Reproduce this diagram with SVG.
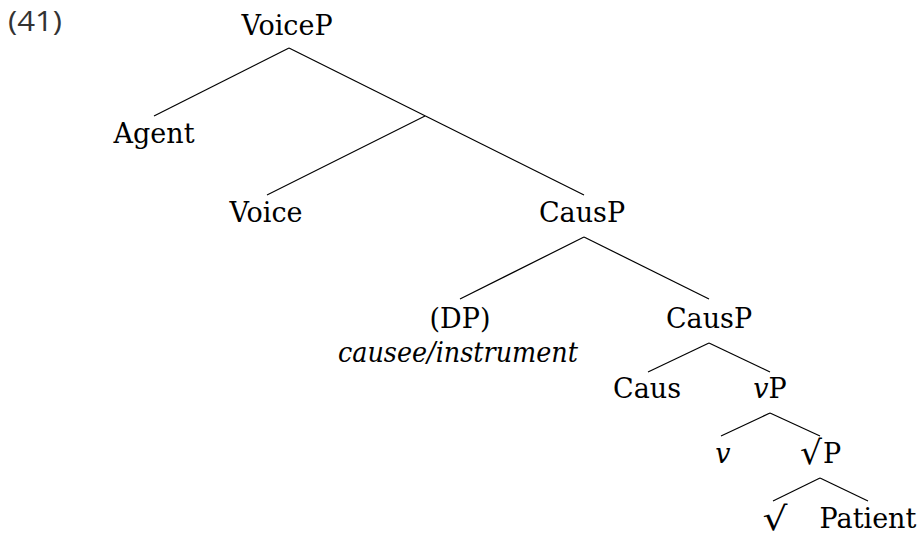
<svg xmlns="http://www.w3.org/2000/svg" width="920" height="538" viewBox="0 0 920 538">
<style>
.t{font-family:"DejaVu Serif","Liberation Serif",serif;font-size:27px;fill:#000;text-anchor:middle}
.i{font-style:italic}
.r{font-family:"DejaVu Sans","Liberation Sans",sans-serif;font-size:33px}
.n{font-family:"Open Sans","Liberation Sans",sans-serif;font-size:28px;fill:#333}
.e line{stroke:#000;stroke-width:1.2;fill:none}
</style>
<rect width="920" height="538" fill="#fff"/>
<text class="n" x="8" y="31" textLength="54" lengthAdjust="spacingAndGlyphs">(41)</text>
<g class="e" id="connectors">
<line x1="289" y1="48" x2="154" y2="116"/>
<line x1="289" y1="48" x2="584" y2="195"/>
<line x1="425" y1="116" x2="267" y2="195"/>
<line x1="584" y1="237" x2="460" y2="299"/>
<line x1="584" y1="237" x2="709" y2="299"/>
<line x1="709" y1="343" x2="648" y2="372"/>
<line x1="709" y1="343" x2="770" y2="372"/>
<line x1="770" y1="413" x2="721" y2="436"/>
<line x1="770" y1="413" x2="820" y2="436"/>
<line x1="820" y1="478" x2="773" y2="501"/>
<line x1="820" y1="478" x2="868" y2="501"/>
</g>
<g id="voiceP"><text class="t" x="287" y="35">VoiceP</text></g>
<g id="agent"><text class="t" x="154" y="143">Agent</text></g>
<g id="voice"><text class="t" x="266" y="222">Voice</text></g>
<g id="causP1"><text class="t" x="582" y="222">CausP</text></g>
<g id="dp"><text class="t" x="460" y="328">(DP)</text><text class="t i" x="458" y="362" textLength="240" lengthAdjust="spacingAndGlyphs">causee/instrument</text></g>
<g id="causP2"><text class="t" x="709" y="328">CausP</text></g>
<g id="caus"><text class="t" x="647" y="398">Caus</text></g>
<g id="vP"><text class="t" x="770" y="398"><tspan class="i">v</tspan>P</text></g>
<g id="v"><text class="t i" x="723" y="463">v</text></g>
<g id="rootP"><text class="t r" x="811" y="464" textLength="22" lengthAdjust="spacingAndGlyphs">√</text><text class="t" x="832" y="463">P</text></g>
<g id="root"><text class="t r" x="775" y="530" textLength="25" lengthAdjust="spacingAndGlyphs">√</text></g>
<g id="patient"><text class="t" x="868" y="528">Patient</text></g>
</svg>
